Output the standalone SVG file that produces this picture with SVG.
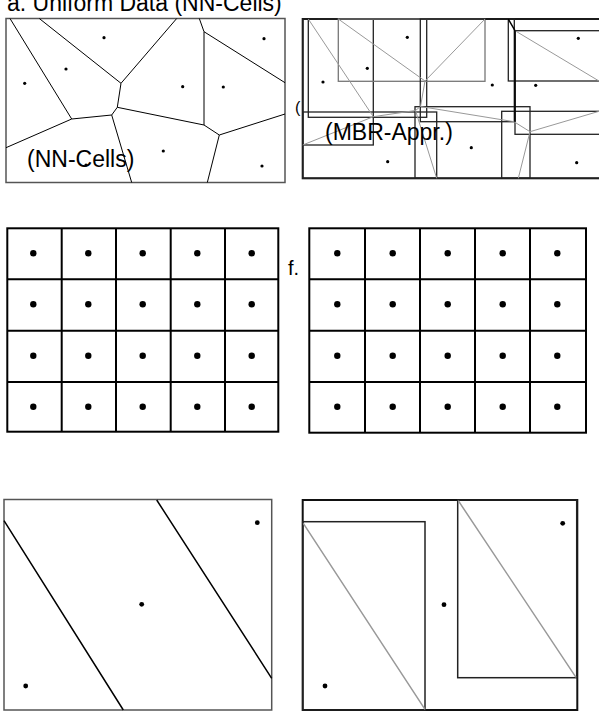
<svg xmlns="http://www.w3.org/2000/svg" width="599" height="711" viewBox="0 0 599 711">
<style>
text{font-family:"Liberation Sans",Arial,sans-serif;fill:#000}
.frame{fill:none;stroke:#555;stroke-width:1.5}
.frameb{fill:none;stroke:#111;stroke-width:2}
.edge{fill:none;stroke:#000;stroke-width:1}
.mbr{fill:none;stroke:#222;stroke-width:1.3}
.mbrl{fill:none;stroke:#777;stroke-width:1.3}
.vor{fill:none;stroke:#999;stroke-width:1}
.grid{fill:none;stroke:#000;stroke-width:2}
.dot{fill:#000}
.thick{fill:none;stroke:#000;stroke-width:1.5}
.gdiag{fill:none;stroke:#999;stroke-width:1.5}
</style>
<rect width="599" height="711" fill="#fff"/>
<text x="7" y="10.5" font-size="23">a. Uniform Data (NN-Cells)</text>

<g id="panel-nn-cells">
<rect x="6" y="18.5" width="279" height="164" class="frame"/>
<path class="edge" d="M10,18.5 L71.7,119 M39.3,18.5 L121,83.3 M176.7,18.5 L121,83.3 M121,83.3 L117.3,107.3 L111.7,115 L71.7,119 L6,147.7 M111.7,115 L131.7,182.5 M117.3,107.3 L204,125 L219.3,135 L285,114 M219.3,135 L207.3,182.5 M204,125 L204,31.7 L199.3,18.5 M204,31.7 L285,82.7"/>
<g class="dot">
<circle cx="104" cy="37.7" r="1.6"/><circle cx="66" cy="69" r="1.6"/><circle cx="24.7" cy="83.3" r="1.6"/>
<circle cx="182.7" cy="86.7" r="1.6"/><circle cx="223.3" cy="87" r="1.6"/><circle cx="264" cy="38.7" r="1.6"/>
<circle cx="163.3" cy="151" r="1.6"/><circle cx="262" cy="166" r="1.6"/><circle cx="86" cy="165" r="1.6"/>
</g>
<text x="27" y="167" font-size="23">(NN-Cells)</text>
</g>

<text x="295" y="113" font-size="16">(</text>

<g id="panel-mbr-appr">
<rect x="302.7" y="19" width="310" height="159.3" class="frameb"/>
<rect x="302.7" y="19" width="70.6" height="126" class="mbr"/>
<rect x="308.3" y="19" width="118.4" height="98.3" class="mbr"/>
<rect x="338.3" y="19" width="146.7" height="62.3" class="mbrl"/>
<rect x="420.3" y="19" width="94" height="102.7" class="mbr"/>
<rect x="508.3" y="19" width="95" height="62" class="mbr"/>
<rect x="515" y="30.7" width="88" height="103.6" class="mbr"/>
<rect x="302.7" y="112" width="134" height="66.3" class="mbr"/>
<rect x="415" y="106.7" width="115" height="71.6" class="mbr"/>
<rect x="501.7" y="111.3" width="101" height="67" class="mbr"/>
<path class="vor" d="M308.3,19 L373.3,116.7 L302.7,145 M373.3,116.7 L415.5,110.5 M338.3,19 L425,81 L485,19 M425,81 L420.5,106.5 L415.5,110.5 L436.7,178.3 M420.5,106.5 L514,121.7 L530,131.7 L599,111.3 M530,131.7 L518.3,178.3 M515,30.7 L599,81"/>
<path class="edge" d="M508.3,19 L515,30.7 L515,121.7" style="stroke-width:1.5"/>
<g class="dot">
<circle cx="407.3" cy="37.3" r="1.6"/><circle cx="367.3" cy="68.3" r="1.6"/><circle cx="323" cy="82" r="1.6"/>
<circle cx="492.3" cy="85" r="1.6"/><circle cx="535.7" cy="85.3" r="1.6"/><circle cx="578.3" cy="38.3" r="1.6"/>
<circle cx="471.3" cy="147.7" r="1.6"/><circle cx="576.7" cy="162.7" r="1.6"/><circle cx="387.7" cy="161.7" r="1.6"/>
</g>
<text x="325" y="140" font-size="23">(MBR-Appr.)</text>
</g>

<g id="panel-grid-left">
<rect x="7.3" y="228.3" width="271" height="203.4" class="grid"/>
<path class="grid" d="M61.7,228.3 V431.7 M116,228.3 V431.7 M170.7,228.3 V431.7 M225,228.3 V431.7 M7.3,279.3 H278.3 M7.3,330.7 H278.3 M7.3,382 H278.3"/>
<g class="dot">
<circle cx="33.3" cy="253.3" r="3.2"/><circle cx="88.3" cy="253.3" r="3.2"/><circle cx="142.7" cy="253.3" r="3.2"/><circle cx="197.3" cy="253.3" r="3.2"/><circle cx="251.7" cy="253.3" r="3.2"/>
<circle cx="33.3" cy="304.3" r="3.2"/><circle cx="88.3" cy="304.3" r="3.2"/><circle cx="142.7" cy="304.3" r="3.2"/><circle cx="197.3" cy="304.3" r="3.2"/><circle cx="251.7" cy="304.3" r="3.2"/>
<circle cx="33.3" cy="355.7" r="3.2"/><circle cx="88.3" cy="355.7" r="3.2"/><circle cx="142.7" cy="355.7" r="3.2"/><circle cx="197.3" cy="355.7" r="3.2"/><circle cx="251.7" cy="355.7" r="3.2"/>
<circle cx="33.3" cy="406.7" r="3.2"/><circle cx="88.3" cy="406.7" r="3.2"/><circle cx="142.7" cy="406.7" r="3.2"/><circle cx="197.3" cy="406.7" r="3.2"/><circle cx="251.7" cy="406.7" r="3.2"/>
</g>
</g>

<text x="288" y="275" font-size="20">f.</text>

<g id="panel-grid-right">
<rect x="309.3" y="228.3" width="276.7" height="204.4" class="grid"/>
<path class="grid" d="M365,228.3 V432.7 M420,228.3 V432.7 M475,228.3 V432.7 M530,228.3 V432.7 M309.3,279.3 H586 M309.3,330.7 H586 M309.3,382 H586"/>
<g class="dot">
<circle cx="337.3" cy="253.3" r="3.2"/><circle cx="392.7" cy="253.3" r="3.2"/><circle cx="447.7" cy="253.3" r="3.2"/><circle cx="502.7" cy="253.3" r="3.2"/><circle cx="557.3" cy="253.3" r="3.2"/>
<circle cx="337.3" cy="304.3" r="3.2"/><circle cx="392.7" cy="304.3" r="3.2"/><circle cx="447.7" cy="304.3" r="3.2"/><circle cx="502.7" cy="304.3" r="3.2"/><circle cx="557.3" cy="304.3" r="3.2"/>
<circle cx="337.3" cy="355.7" r="3.2"/><circle cx="392.7" cy="355.7" r="3.2"/><circle cx="447.7" cy="355.7" r="3.2"/><circle cx="502.7" cy="355.7" r="3.2"/><circle cx="557.3" cy="355.7" r="3.2"/>
<circle cx="337.3" cy="406.7" r="3.2"/><circle cx="392.7" cy="406.7" r="3.2"/><circle cx="447.7" cy="406.7" r="3.2"/><circle cx="502.7" cy="406.7" r="3.2"/><circle cx="557.3" cy="406.7" r="3.2"/>
</g>
</g>

<g id="panel-bottom-left">
<rect x="4" y="499.5" width="267.7" height="210.5" class="frame"/>
<path class="thick" d="M4,520.7 L123.3,710 M156.7,500 L271.7,678.3"/>
<g class="dot"><circle cx="257.3" cy="522.7" r="2.4"/><circle cx="141.7" cy="604.3" r="2.4"/><circle cx="25.7" cy="686" r="2.4"/></g>
</g>

<g id="panel-bottom-right">
<rect x="302.7" y="500" width="274.6" height="210" class="frameb"/>
<rect x="302.7" y="521.7" width="122.3" height="188.3" class="mbr" style="stroke-width:1.5"/>
<rect x="457.7" y="500" width="119" height="177.7" class="mbr" style="stroke-width:1.5"/>
<path class="gdiag" d="M303.3,523.3 L425,709.3 M458.3,500.7 L576,677.3"/>
<g class="dot"><circle cx="562.7" cy="523.3" r="2.4"/><circle cx="444" cy="604.7" r="2.4"/><circle cx="325" cy="686" r="2.4"/></g>
</g>
</svg>
